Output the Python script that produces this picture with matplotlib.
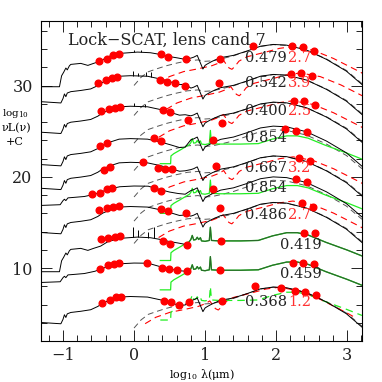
import numpy as np
import matplotlib.pyplot as plt
from matplotlib.ticker import MultipleLocator

plt.rcParams['font.family'] = ['DejaVu Serif']
plt.rcParams['mathtext.fontset'] = 'dejavuserif'

# ---- one entry per stacked source, top to bottom ----
z_lens = [0.479, 0.542, 0.400, 0.854, 0.667, 0.854, 0.486, 0.419, 0.459, 0.368]
z_back = [2.7, 3.9, 2.5, None, 3.2, None, 2.7, None, None, 1.2]
lens_txt = ['0.479', '0.542', '0.400', '0.854', '0.667', '0.854', '0.486', '0.419', '0.459', '0.368']
back_txt = ['2.7', '3.9', '2.5', '', '3.2', '', '2.7', '', '', '1.2']

# levels (log nuL + C)
star_peak = [33.69, 31.1, 27.75, 24.2, 21.6, 19.0, 16.75, 13.4, 10.55, 6.88]
star_kind = ['deep', 'mid', 'mid', 'mid', 'mid', 'flat', 'mid', 'deep', 'flat', 'mid']
ir_peak = [34.53, 31.24, 28.2, 25.57, 22.3, 20.0, 17.2, None, None, 7.92]
gray_peak = [34.53, 31.24, 28.2, 25.2, 22.3, 19.65, 17.2, None, None, 7.92]
red_peak = [34.3, 31.4, 28.35, None, 22.2, None, 17.35, None, None, 7.9]
green_flat = [None, None, None, 23.65, None, 18.2, None, 13.03, 9.81, 6.5]
green_kind = [None, None, None, 'lime', None, 'lime', None, 'dark', 'dark', 'dash']

# emission line spikes on the optical templates
spike_x = {0: [0.0, 0.1], 1: [-0.02, 0.06, 0.17, 0.24], 2: [0.0, 0.15],
           7: [-0.02, 0.05, 0.19, 0.28]}
spike_h = {0: [0.3, 0.25], 1: [0.5, 0.35, 0.45, 0.5], 2: [0.35, 0.3],
           7: [1.17, 0.8, 0.62, 1.24]}

# photometry: observed band wavelengths (um) and measured points per source
band_um = [0.48, 0.62, 0.76, 0.90, 2.2, 3.6, 4.5, 5.8, 8.0, 24., 70., 160., 250., 350., 500.]
nan = np.nan
phot = [
    [32.7, 32.96, 33.32, 33.43, nan, 33.43, 33.18, nan, 32.96, 32.96, 34.34, nan, 34.34, 34.23, 33.8],
    [30.25, 30.58, 30.88, 30.94, nan, 30.61, 30.39, 30.25, 29.96, 30.25, nan, nan, 31.24, 31.35, 31.05],
    [27.21, 27.47, 27.59, 27.65, nan, 27.29, 27.15, nan, 26.19, 25.94, nan, nan, 28.31, 28.31, 27.84],
    [nan, 23.37, 23.75, nan, nan, 24.3, 23.92, nan, nan, 24.03, nan, nan, 25.28, 25.02, 24.91],
    [nan, 20.74, 21.11, nan, 21.62, 21.0, 20.89, 20.89, nan, 21.18, nan, nan, nan, 22.1, 21.73],
    [18.07, 18.26, 18.62, 18.81, nan, 18.81, 18.44, nan, nan, 18.62, nan, nan, nan, 19.72, 19.42],
    [16.35, 16.61, 16.72, 16.79, nan, 16.43, 16.3, nan, 16.06, 16.6, nan, nan, nan, 17.16, 16.72],
    [13.2, 13.32, 13.4, 13.5, nan, 12.92, 12.67, nan, 12.56, 12.92, nan, nan, nan, 13.9, 13.84],
    [9.89, 10.29, 10.47, 10.55, 10.61, 10.0, 9.89, 9.74, 9.63, 9.81, nan, nan, 10.61, 10.61, 10.44],
    [6.16, 6.52, 6.78, 6.88, nan, 6.41, 6.23, 5.9, 6.3, 6.41, 7.98, 7.81, 7.43, 7.37, 7.07],
]

# ---- template shapes (log lambda, relative level) ----
star_tmpl = {
    'deep': ([-1.31, -1.05, -1.02, -0.99, -0.96, -0.94, -0.91, -0.89, -0.75, -0.65, -0.57,
              -0.47, -0.37, -0.21, 0.05, 0.23, 0.37, 0.49, 0.62, 0.72],
             [-3.8, -3.8, -2.6, -2.2, -1.75, -1.95, -1.5, -1.35, -1.24, -1.46, -1.24,
              -0.99, -0.51, -0.15, 0.0, -0.07, -0.26, -0.48, -0.65, -0.8]),
    'mid': ([-1.31, -1.03, -1.0, -0.98, -0.96, -0.94, -0.89, -0.75, -0.61, -0.51, -0.44,
             -0.33, -0.21, -0.05, 0.19, 0.37, 0.53, 0.64, 0.72],
            [-2.85, -2.99, -2.5, -2.0, -2.3, -1.9, -1.75, -1.62, -1.45, -1.09, -0.72,
             -0.36, -0.06, 0.0, -0.06, -0.36, -0.72, -0.98, -0.93]),
    'flat': ([-1.31, -1.04, -1.0, -0.98, -0.96, -0.93, -0.85, -0.7, -0.55, -0.45, -0.33,
              -0.2, 0.0, 0.2, 0.37, 0.5, 0.62, 0.72],
             [-2.13, -2.05, -1.6, -1.45, -1.6, -1.3, -1.25, -1.15, -0.9, -0.6, -0.3,
              -0.08, 0.0, -0.02, -0.4, -0.66, -0.82, -0.9]),
}
ir_x = [0.80, 0.84, 0.89, 0.93, 0.97, 1.00, 1.03, 1.10, 1.22, 1.40, 1.60, 1.78, 1.96,
        2.15, 2.43, 2.71, 2.99, 3.21]
ir_y = [-1.5, -1.4, -1.2, -1.95, -2.7, -2.3, -2.15, -1.85, -1.45, -1.2, -0.7, -0.2, 0.0,
        -0.08, -0.62, -1.64, -2.93, -4.4]
gray_x = [0.0, 0.1, 0.2, 0.33, 0.45, 0.6, 0.75, 0.9, 1.0, 1.1, 1.22, 1.4, 1.6, 1.78, 1.96,
          2.15, 2.43, 2.71, 2.99, 3.21]
gray_y = [-4.5, -3.6, -3.0, -2.65, -2.35, -2.05, -1.8, -1.7, -1.85, -1.8, -1.6, -1.25, -0.72,
          -0.22, -0.02, -0.1, -0.62, -1.6, -2.85, -4.3]
green_x = [0.37, 0.515, 0.52, 0.56, 0.65, 0.78, 0.80, 0.82, 0.84, 0.87, 0.89, 0.91, 0.935,
           0.95, 1.00, 1.06, 1.075, 1.09, 1.20, 1.50, 1.75, 1.95, 2.15, 2.30, 2.45, 2.70,
           3.00, 3.21]
green_y = [-2.2, -2.2, -1.35, -1.1, -0.7, -0.1, 0.1, 0.55, 0.05, 0.1, 0.35, 0.1, 0.3,
           -0.05, -0.1, 0.0, 1.45, 0.0, -0.05, -0.05, 0.0, 0.5, 0.85, 0.85, 0.6, -0.2,
           -1.05, -1.7]
# starburst template in the background source rest frame
red_x = [-0.05, 0.1, 0.3, 0.5, 0.7, 0.8, 0.86, 0.9, 0.94, 0.98, 1.02, 1.08, 1.19, 1.47,
         1.65, 1.84, 2.12, 2.41, 2.78, 2.9]
red_y = [-4.0, -3.3, -2.75, -2.45, -2.1, -1.8, -1.5, -1.95, -2.35, -2.5, -2.2, -1.6, -1.13,
         -0.58, -0.2, 0.0, -0.4, -1.31, -2.77, -3.3]

# label placement
label_y = [33.0, 30.3, 27.2, 24.25, 21.0, 18.8, 15.8, 12.5, 9.4, 6.3]
label_x = [2.15, 2.15, 2.15, 2.15, 2.15, 2.15, 2.15, 2.64, 2.64, 2.15]

fig = plt.figure(figsize=(3.82, 3.82), dpi=100)
ax = fig.add_axes([41 / 382, 41 / 382, 321 / 382, 320 / 382])

dash = (0, (6, 4))
for i in range(len(z_lens)):
    if gray_peak[i] is not None:
        ax.plot(gray_x, np.array(gray_y) + gray_peak[i], color='#555555', lw=0.7,
                ls=dash, zorder=1)
    if red_peak[i] is not None:
        shift = np.log10((1 + z_back[i]) / (1 + z_lens[i]))
        ax.plot(np.array(red_x) + shift, np.array(red_y) + red_peak[i], color='red',
                lw=0.8, ls=dash, zorder=2)
    if green_flat[i] is not None:
        gx = np.array(green_x)
        gy = np.array(green_y) + green_flat[i]
        if green_kind[i] == 'dash':
            ax.plot(gx, gy, color='#22ee22', lw=0.9, ls=dash, zorder=3)
        else:
            ax.plot(gx, gy, color='#22ee22', lw=0.9, zorder=3)
        if green_kind[i] == 'dark':
            m = gx >= 0.78
            ax.plot(gx[m], gy[m], color='#2a6a2a', lw=0.9, zorder=4)

    sx, sy = star_tmpl[star_kind[i]]
    sy = np.array(sy) + star_peak[i]
    if ir_peak[i] is not None:
        lx = np.concatenate([sx, ir_x])
        ly = np.concatenate([sy, np.array(ir_y) + ir_peak[i]])
    else:
        lx, ly = np.array(sx), sy
    ax.plot(lx, ly, color='black', lw=0.7, zorder=4)
    if i in spike_x:
        base = np.interp(spike_x[i], sx, sy)
        ax.vlines(spike_x[i], base, base + np.array(spike_h[i]), color='black',
                  lw=0.7, zorder=4)

    px = np.log10(np.array(band_um) / (1 + z_lens[i]))
    ax.plot(px, phot[i], 'o', color='red', ms=4.8, mec='red', zorder=5)

    ax.text(label_x[i], label_y[i], lens_txt[i], fontsize=10.5, color='#222222',
            ha='right', va='center', zorder=6)
    if back_txt[i]:
        ax.text(label_x[i] + 0.02, label_y[i], back_txt[i], fontsize=10.5,
                color='#ff3030', ha='left', va='center', zorder=6)

ax.text(-0.93, 34.5, 'Lock\u2212SCAT, lens cand 7', fontsize=11.5, color='#222222')

ax.set_xlim(-1.31, 3.21)
ax.set_ylim(2.0, 37.1)
ax.xaxis.set_major_locator(MultipleLocator(1))
ax.xaxis.set_minor_locator(MultipleLocator(0.2))
ax.yaxis.set_major_locator(MultipleLocator(10))
ax.yaxis.set_minor_locator(MultipleLocator(2))
ax.tick_params(which='both', direction='in', top=True, right=True, width=0.7,
               labelsize=11.5, colors='#222222')
ax.tick_params(axis='x', pad=4)
ax.tick_params(axis='y', pad=6)
ax.tick_params(which='major', length=8)
ax.tick_params(which='minor', length=4)
for s in ax.spines.values():
    s.set_linewidth(0.8)

fig.text(16 / 382, 1 - 113 / 382, 'log$_{10}$', fontsize=7.5, ha='center', va='center')
fig.text(16 / 382, 1 - 128 / 382, '\u03bdL(\u03bd)', fontsize=8, ha='center', va='center')
fig.text(15 / 382, 1 - 142 / 382, '+C', fontsize=8, ha='center', va='center')
fig.text(202 / 382, 1 - 374 / 382, 'log$_{10}$ \u03bb(\u03bcm)', fontsize=8,
         ha='center', va='center')

fig.savefig('out.png', dpi=100)
